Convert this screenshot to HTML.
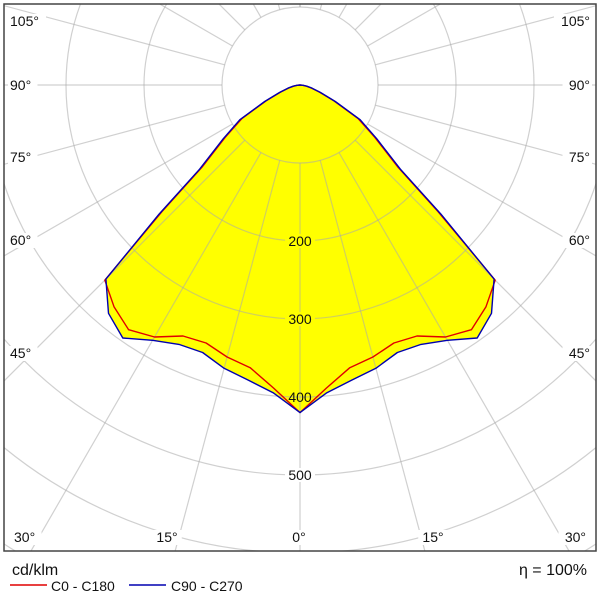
<!DOCTYPE html>
<html><head><meta charset="utf-8"><style>
html,body{margin:0;padding:0;background:#fff;width:600px;height:600px;overflow:hidden;font-family:"Liberation Sans",sans-serif}
svg{display:block}
svg text{font-family:"Liberation Sans",sans-serif}
</style></head><body>
<svg id="chart" width="600" height="600" viewBox="0 0 600 600" xmlns="http://www.w3.org/2000/svg">
<defs><clipPath id="frameClip"><rect x="4" y="4" width="592" height="547"/></clipPath></defs>
<rect x="0" y="0" width="600" height="600" fill="#fff"/>
<g id="plot" clip-path="url(#frameClip)"></g>
<rect x="4" y="4" width="592" height="547" fill="none" stroke="#444" stroke-width="1.5"/>
<g id="labels" font-size="14" fill="#111"></g>
<text x="12" y="575" font-size="16" fill="#111">cd/klm</text>
<text x="587" y="575" font-size="16" fill="#111" text-anchor="end">η = 100%</text>
<g>
<line x1="10" y1="585" x2="47" y2="585" stroke="#e00000" stroke-width="1.5"/>
<text x="51" y="591" font-size="14" fill="#111">C0 - C180</text></g>
<g>
<line x1="129" y1="585" x2="166" y2="585" stroke="#0000b0" stroke-width="1.5"/>
<text x="171" y="591" font-size="14" fill="#111">C90 - C270</text></g>
</svg>
<script>
const angles = [0,5,10,15,20,25,30,35,40,45,47.5,50,55,60,65,70,75,80,85,90];
const c0c180 = [420,390,368,361,352,355,373,383,371,354,240,164,117,86,48,26,15,8,3,0];
const c90c270 = [420,396,384,376,365,367,378,396,382,352,245,168,120,89,50,28,16,9,4,0];
const ringValues = [100,200,300,400,500,600,700,800];
const ringLabels = ["200","300","400","500"];
const angleLabelsLeft = ["105°","90°","75°","60°","45°","30°","15°","0°"];

const NS="http://www.w3.org/2000/svg";
const cx=300, cy=85, k=0.78;
function rad(v){return v*k;}
function px(angleDeg,v,side){return cx+side*rad(v)*Math.sin(angleDeg*Math.PI/180);}
function py(angleDeg,v){return cy+rad(v)*Math.cos(angleDeg*Math.PI/180);}
const plot=document.getElementById('plot');
function mk(t,a){const e=document.createElementNS(NS,t);for(const n in a)e.setAttribute(n,a[n]);return e;}
function curvePath(vals){
  let pts=[];
  for(let i=angles.length-1;i>=0;i--)pts.push([px(angles[i],vals[i],-1),py(angles[i],vals[i])]);
  for(let i=1;i<angles.length;i++)pts.push([px(angles[i],vals[i],1),py(angles[i],vals[i])]);
  return 'M'+pts.map(p=>p[0].toFixed(1)+','+p[1].toFixed(1)).join('L')+'Z';
}
const fill=mk('path',{d:curvePath(c90c270),fill:'#ffff00',stroke:'none'});


plot.appendChild(fill);
const grid=mk('g',{stroke:'rgba(170,170,170,0.55)','stroke-width':'1.2',fill:'none'});


plot.appendChild(grid);
ringValues.forEach(v=>{
  const c=mk('circle',{cx:cx,cy:cy,r:rad(v)});
  
  
  grid.appendChild(c);
});
for(let a=-180;a<=180;a+=15){
  const r0=rad(ringValues[0]), r1=900;
  const s=Math.sin(a*Math.PI/180), co=Math.cos(a*Math.PI/180);
  const l=mk('line',{x1:cx+r0*s,y1:cy+r0*co,x2:cx+r1*s,y2:cy+r1*co});
  
  
  grid.appendChild(l);
}
const red=mk('path',{d:curvePath(c0c180),fill:'none',stroke:'#e00000','stroke-width':'1.4','stroke-linejoin':'round'});


plot.appendChild(red);
const blue=mk('path',{d:curvePath(c90c270),fill:'none',stroke:'#0000b0','stroke-width':'1.4','stroke-linejoin':'round'});


plot.appendChild(blue);
const labels=document.getElementById('labels');
ringLabels.forEach(t=>{
  const v=+t, y=cy+rad(v);
  const bgc = v<=300 ? '#ffff00' : '#fff';
  if(v!==400){
    const b=mk('rect',{x:cx-15,y:y-7,width:30,height:14,fill:bgc});
    
    
    labels.appendChild(b);
  }
  const tx=mk('text',{x:cx,y:y+5,'text-anchor':'middle'});
  tx.textContent=t;
  
  
  labels.appendChild(tx);
});
const labelYs=[26,90,162,245,358,542,542,542];
const labelXs=[10,10,10,10,10,14,167,299];
angleLabelsLeft.forEach((t,i)=>{
  const bottom=i>=5;
  const sides = (t==="0°")?[0]:[-1,1];
  sides.forEach(sd=>{
    let x,anchor;
    if(sd===0){x=299;anchor='middle';}
    else if(bottom){x= sd<0? labelXs[i] : 600-labelXs[i]; anchor= sd<0?'start':'end'; if(i===6){x=sd<0?167:433;anchor='middle';}}
    else {x= sd<0? labelXs[i] : 590; anchor= sd<0?'start':'end';}
    const tx=mk('text',{x:x,y:labelYs[i],'text-anchor':anchor});
    tx.textContent=t;
    
    
    const w=t.length*8.5+4;
    const bx = anchor==='middle'? x-w/2 : (anchor==='start'? x-2 : x-w+2);
    const b=mk('rect',{x:bx,y:labelYs[i]-12,width:w,height:15,fill:'#fff'});
    
    
    labels.appendChild(b);
    labels.appendChild(tx);
  });
});
</script>
</body></html>
